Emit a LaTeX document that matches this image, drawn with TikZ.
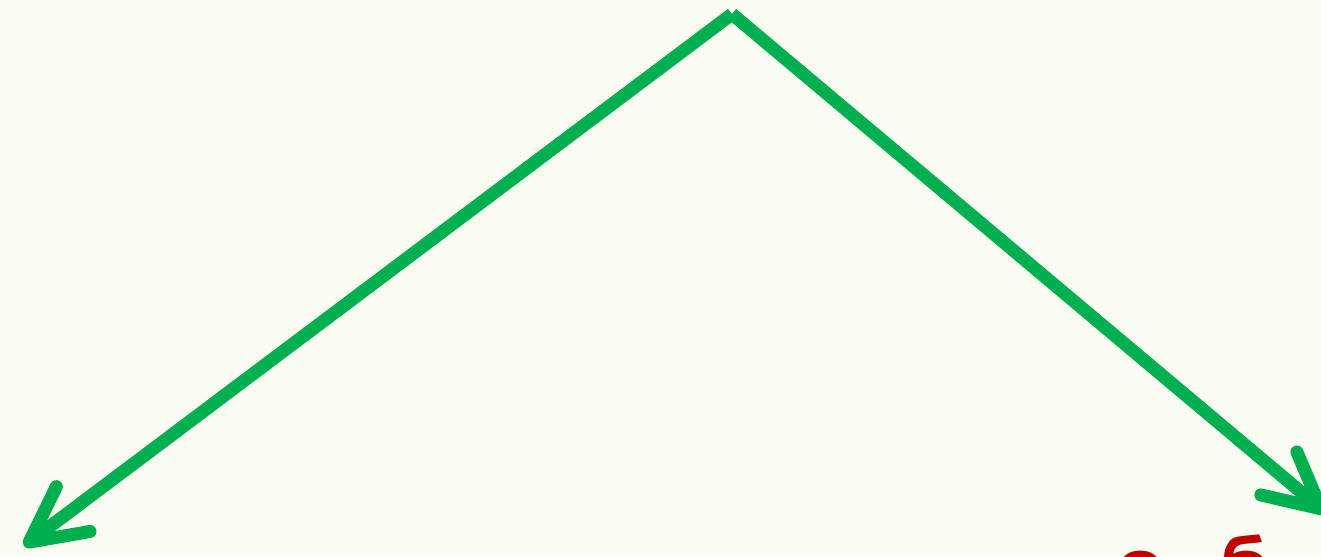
\documentclass[tikz,border=0pt]{standalone}
\usepackage{fontspec}
\newfontfamily\cyrfont{DejaVu Sans}
\usetikzlibrary{arrows.meta}
\definecolor{bgpaper}{HTML}{FAFCF2}
\definecolor{arrowgreen}{HTML}{00B050}
\definecolor{labelred}{HTML}{C00000}

\begin{document}
\begin{tikzpicture}[x=0.01cm,y=-0.01cm,line width=3.7pt,
  >={Straight Barb[length=5.5mm,width=5.6mm,round]}]
% ================= frame =================
\fill[bgpaper] (0,0) rectangle (1321,556);
\clip (0,0) rectangle (1321,556);
% ================= branching arrows =================
\coordinate (apex) at (732,14);
\coordinate (leftend) at (24,546);
\coordinate (rightend) at (1326,513);
\draw[arrowgreen,->] (apex) -- (leftend);
\draw[arrowgreen,->] (apex) -- (rightend);
% cut-off label below the right arrow
\node[labelred,anchor=base west,inner sep=0pt,
  font=\cyrfont\bfseries\fontsize{20}{24}\selectfont] (cutlabel) at (1110,590) {о\hspace{0.8em}б};
\end{tikzpicture}
\end{document}
